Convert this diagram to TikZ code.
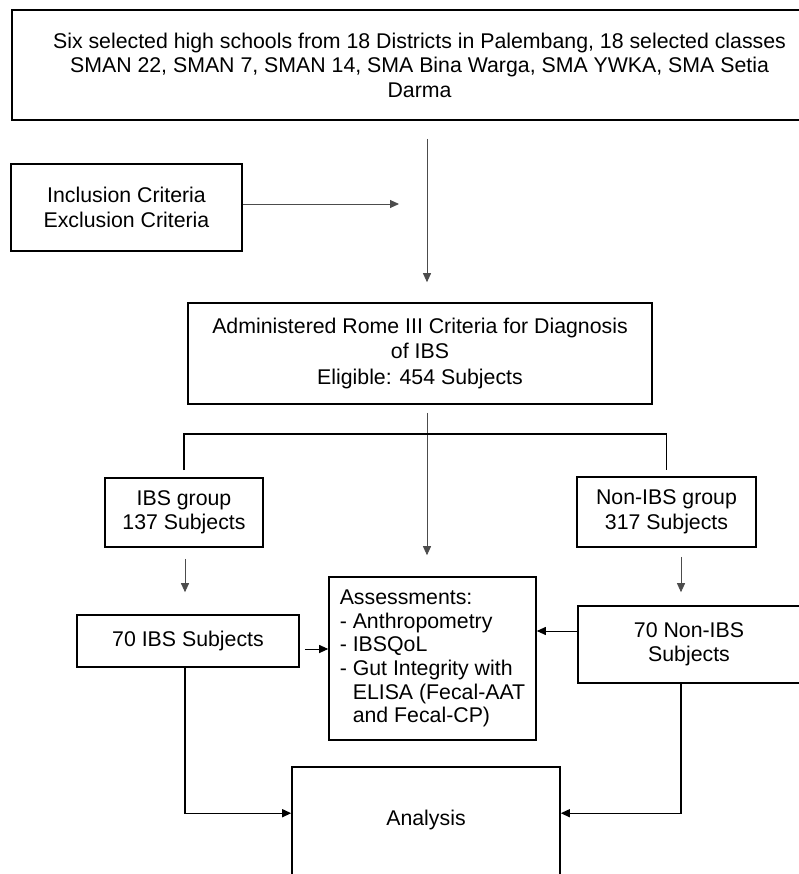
\documentclass[tikz,border=0pt]{standalone}
\usepackage{fontspec}
\setmainfont{Liberation Sans}
\usetikzlibrary{arrows.meta}

\begin{document}
\begin{tikzpicture}[x=1pt,y=-1pt,
	>={Triangle[length=9pt,width=8pt]},
	box/.style={draw=black,line width=1.6pt,align=center,inner sep=0pt,font=\fontsize{21.3}{24.5}\selectfont},
	flow/.style={color=black!70,line width=0.9pt},
	link/.style={color=black,line width=1.3pt}]
	\useasboundingbox (0,0) rectangle (798,874);

	\node[box,minimum width=815pt,minimum height=110pt] (schools) at (419.5,65) {Six selected high schools from 18 Districts in Palembang, 18 selected classes\\SMAN 22, SMAN 7, SMAN 14, SMA Bina Warga, SMA YWKA, SMA Setia\\Darma};
	\node[box,minimum width=231pt,minimum height=87pt] (incl) at (126.5,207.5) {Inclusion Criteria\\Exclusion Criteria};
	\node[box,minimum width=464pt,minimum height=101pt] (rome) at (420,353.5) {Administered Rome III Criteria for Diagnosis\\of IBS\\[2pt]Eligible: 454 Subjects};
	\node[box,minimum width=158pt,minimum height=69pt] (ibs) at (184,512.5) {IBS group\\137 Subjects};
	\node[box,minimum width=179pt,minimum height=70pt] (nonibs) at (666.5,512) {Non-IBS group\\317 Subjects};
	\node[box,minimum width=222pt,minimum height=52pt] (ibs70) at (188,641) {70 IBS Subjects};
	\node[box,minimum width=222pt,minimum height=77pt] (nonibs70) at (689,644.5) {70 Non-IBS\\Subjects};
	\node[box,align=left,font=\fontsize{21.3}{23.7}\selectfont,minimum width=207pt,minimum height=163pt] (assess) at (432.5,658.5) {Assessments:\\- Anthropometry\\- IBSQoL\\- Gut Integrity with\\\hphantom{-\ }ELISA (Fecal-AAT\\\hphantom{-\ }and Fecal-CP)};
	\node[box,minimum width=268pt,text height=58pt,text depth=80pt,anchor=base] (analysis) at (426,825) {Analysis};

	\coordinate (spine) at (427,0);
	\coordinate (branch) at (0,434);

	\path [->,flow,shorten <=18pt,shorten >=20pt](schools.south -| spine) edge (rome.north -| spine);
	\path [->,flow,shorten >=28pt]([yshift=3.5pt]incl.east) edge ([yshift=3.5pt]incl.east -| spine);
	\path [->,flow,shorten <=8pt,shorten >=21pt](rome.south -| spine) edge (assess.north -| spine);
	\draw [link]([yshift=7pt]ibs.north) -- (ibs.north |- branch) -- (nonibs.north |- branch) -- ([yshift=6pt]nonibs.north);
	\path [->,flow,shorten <=11pt,shorten >=22pt]([xshift=1pt]ibs.south) edge ([xshift=1pt]ibs.south |- ibs70.north);
	\path [->,flow,shorten <=9pt,shorten >=13pt]([xshift=14.5pt]nonibs.south) edge ([xshift=14.5pt]nonibs.south |- nonibs70.north);
	\path [->,link,line width=1pt,shorten <=5pt]([yshift=-8pt]ibs70.east) edge ([yshift=-8pt]ibs70.east -| assess.west);
	\path [->,link,line width=1pt]([yshift=13.5pt]nonibs70.west) edge ([yshift=13.5pt]nonibs70.west -| assess.east);
	\draw [->,link]([xshift=-3pt]ibs70.south) |- ([yshift=-47pt]analysis.north west);
	\draw [->,link]([xshift=-8pt]nonibs70.south) |- ([yshift=-47pt]analysis.north east);
\end{tikzpicture}
\end{document}
